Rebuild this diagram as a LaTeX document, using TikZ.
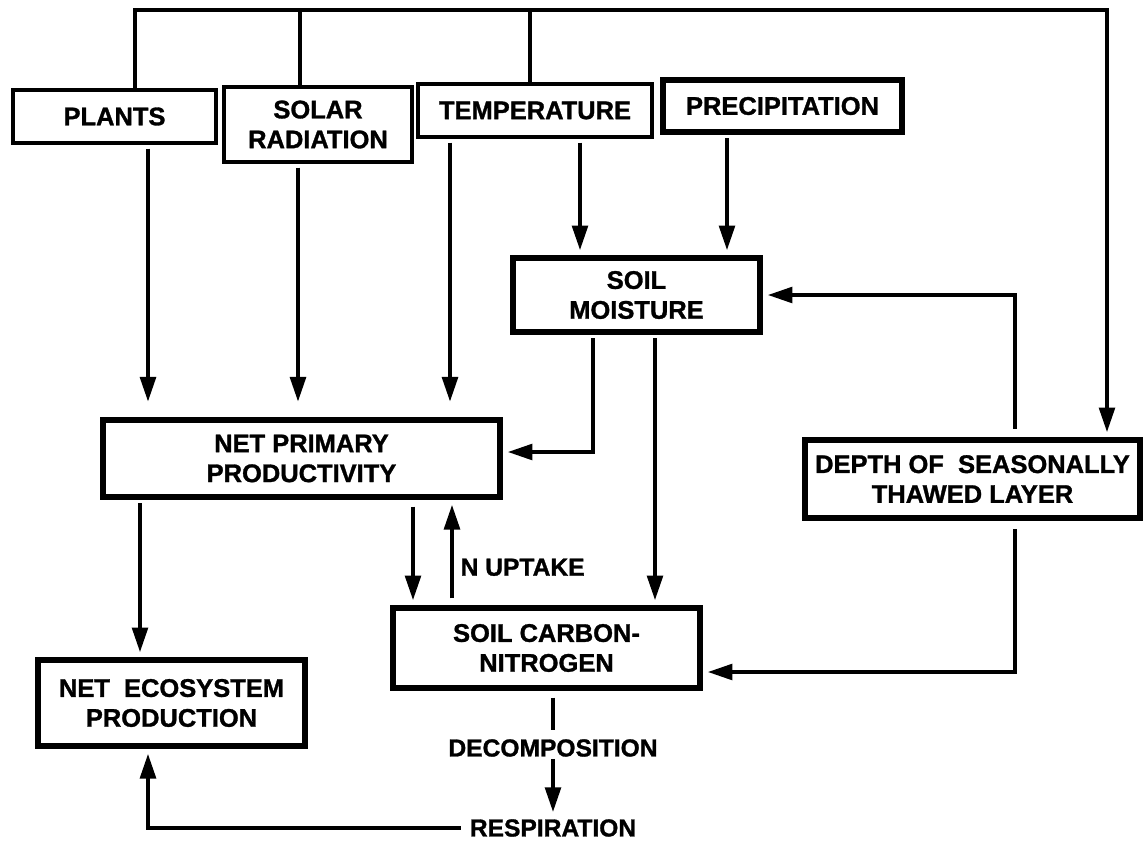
\documentclass[tikz,border=0pt]{standalone}
\usepackage{fontspec}
\setmainfont[BoldFeatures={FakeBold=1.2}]{Liberation Sans}
\usetikzlibrary{arrows.meta}

\tikzset{
  box/.style={draw, line width=3pt, align=center, inner sep=0pt,
    font=\bfseries\fontsize{14.5}{17}\selectfont},
  inbox/.style={box, line width=2.4pt},
  wire/.style={line width=1.9pt},
  arr/.style={wire, -{Triangle[length=14pt,width=9pt]}, shorten >=3pt},
  lbl/.style={font=\bfseries\fontsize{14}{16}\selectfont, inner sep=1pt}
}

\begin{document}
\begin{tikzpicture}[x=0.02cm,y=-0.02cm]
\useasboundingbox (0,0) rectangle (1147,846);
% inputs:
\node[inbox, minimum width=4.06cm, minimum height=1.06cm] (plants) at (114.5,116.5) {PLANTS};
\node[inbox, minimum width=3.76cm, minimum height=1.50cm] (solar) at (318,124.5) {SOLAR\\RADIATION};
\node[inbox, minimum width=4.68cm, minimum height=1.06cm] (temp) at (535,110.5) {TEMPERATURE};
\node[box, minimum width=4.78cm, minimum height=1.04cm] (precip) at (782.5,106) {PRECIPITATION};
% middle and lower boxes:
\node[box, minimum width=4.94cm, minimum height=1.48cm] (moist) at (636.5,295) {SOIL\\MOISTURE};
\node[box, minimum width=7.94cm, minimum height=1.54cm] (npp) at (301.5,458.5) {NET PRIMARY\\PRODUCTIVITY};
\node[box, minimum width=6.70cm, minimum height=1.56cm] (depth) at (972.5,479) {DEPTH OF\ \ SEASONALLY\\THAWED\ LAYER};
\node[box, minimum width=6.14cm, minimum height=1.60cm] (soilcn) at (546.5,648) {SOIL CARBON-\\NITROGEN};
\node[box, minimum width=5.34cm, minimum height=1.72cm] (nep) at (171.5,703) {NET\ \ ECOSYSTEM\\PRODUCTION};
\node[lbl] (decomp) at (553,748) {DECOMPOSITION};
\node[lbl] (resp) at (553,828) {RESPIRATION};
% x and y positions of the connectors:
\coordinate (busL) at (135,10);
\coordinate (busS) at (300,10);
\coordinate (busT) at (530,10);
\coordinate (busR) at (1107,10);
\coordinate (xPl) at (148,0);
\coordinate (xSo) at (298,0);
\coordinate (xTe) at (450,0);
\coordinate (xTm) at (580,0);
\coordinate (xPr) at (727,0);
\coordinate (xMa) at (593,0);
\coordinate (xMb) at (655,0);
\coordinate (xDn) at (413,0);
\coordinate (xUp) at (452,0);
\coordinate (xNe) at (140,0);
\coordinate (xDe) at (1015,0);
\coordinate (xCn) at (553,0);
\coordinate (yNp) at (0,452);
\coordinate (yCn) at (0,672);
% top bus:
\draw[arr] (busL |- plants.north) -- (busL) -- (busR) -- (busR |- depth.north);
\draw[wire] (busS) -- (busS |- solar.north);
\draw[wire] (busT) -- (busT |- temp.north);
% inputs down:
\foreach \src/\xc in {plants/xPl, solar/xSo, temp/xTe}
  \draw[arr, shorten >=9pt, shorten <=2pt] (\xc |- \src.south) -- (\xc |- npp.north);
\foreach \src/\xc in {temp/xTm, precip/xPr}
  \draw[arr, shorten <=2pt] (\xc |- \src.south) -- (\xc |- moist.north);
% soil moisture:
\draw[arr, shorten <=2pt] (xMa |- moist.south) -- (xMa |- yNp) -- (npp.east |- yNp);
\draw[arr, shorten <=2pt] (xMb |- moist.south) -- (xMb |- soilcn.north);
% thawed layer:
\draw[arr, shorten <=5pt] (xDe |- depth.north) -- (xDe |- moist.east) -- (moist.east);
\draw[arr, shorten <=5pt] (xDe |- depth.south) -- (xDe |- yCn) -- (soilcn.east |- yCn);
% npp and soil:
\draw[arr, shorten <=4pt] (xDn |- npp.south) -- (xDn |- soilcn.north);
\draw[arr, shorten <=4pt] (xUp |- soilcn.north) -- (xUp |- npp.south)
  node[lbl, pos=0.36, right=3pt] {N UPTAKE};
\draw[arr, shorten <=2pt] (xNe |- npp.south) -- (xNe |- nep.north);
% decomposition:
\draw[wire, shorten <=4pt, shorten >=4pt] (xCn |- soilcn.south) -- (xCn |- decomp.north);
\draw[arr] (xCn |- decomp.south) -- (xCn |- resp.north);
\draw[arr, shorten <=4pt] (resp.west) -- (xPl |- resp.west) -- (xPl |- nep.south);
\end{tikzpicture}
\end{document}
